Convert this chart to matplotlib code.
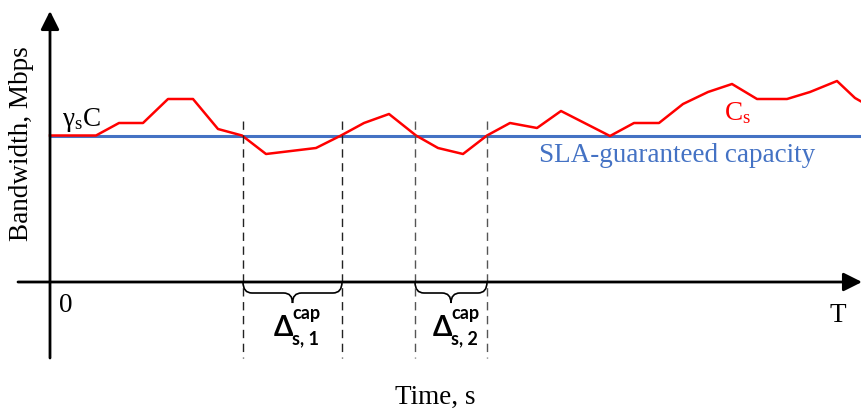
import matplotlib.pyplot as plt
from matplotlib.path import Path
from matplotlib.patches import PathPatch

# red capacity curve C_s (time, bandwidth), arbitrary units
time = [0, 46, 69, 93, 118, 143, 168, 192, 216, 266, 291, 314, 339, 366, 388, 413,
        437, 460, 487, 511, 560, 584, 609, 633, 658, 682, 707, 737, 760, 787, 805, 812]
bandwidth = [146.5, 146.5, 159, 159, 183, 183, 153, 146.5, 128, 134, 146.5, 159, 168, 146.5, 134, 128,
             146.5, 159, 154, 171, 146, 159, 159, 178, 190, 198, 183, 183, 190, 201, 184, 180]
sla_level = 146.5
t_end = 812

# intervals where capacity drops below SLA
gaps = [(193, 292), (365, 437)]
gap_labels = ["1", "2"]

serif = ["Liberation Serif", "DejaVu Serif"]
sans = ["Lato", "DejaVu Sans"]
fs = 19.5

fig = plt.figure(figsize=(8.62, 4.12), dpi=100)
ax = fig.add_axes([0, 0, 1, 1])
ax.set_xlim(-50, 812)
ax.set_ylim(-130, 282)
ax.axis("off")

# axes with arrows
ax.annotate("", xy=(0, 271), xytext=(0, -76),
            arrowprops=dict(arrowstyle="-|>", lw=2.0, color="black", mutation_scale=28, shrinkA=0, shrinkB=0))
ax.annotate("", xy=(t_end, 0), xytext=(-32, 0),
            arrowprops=dict(arrowstyle="-|>", lw=2.0, color="black", mutation_scale=28, shrinkA=0, shrinkB=0))

# SLA line and capacity curve
ax.plot([0, t_end], [sla_level, sla_level], color="#4472C4", lw=2.2)
ax.plot(time, bandwidth, color="#FF0000", lw=1.8)

# dashed markers and braces
dash_colors = ["#222222", "#555555"]
for (a, b), lab, dc in zip(gaps, gap_labels, dash_colors):
    for x in (a, b):
        ax.plot([x, x], [161, -76], color=dc, lw=1.0, ls=(0, (6, 4)))
    m = (a + b) / 2
    r = 9
    mid, tip = -11, -21
    verts = [(a, 0), (a, mid), (a + r, mid), (m - r, mid), (m, mid), (m, tip),
             (m, mid), (m + r, mid), (b - r, mid), (b, mid), (b, 0)]
    codes = [Path.MOVETO, Path.CURVE3, Path.CURVE3, Path.LINETO, Path.CURVE3, Path.CURVE3,
             Path.CURVE3, Path.CURVE3, Path.LINETO, Path.CURVE3, Path.CURVE3]
    ax.add_patch(PathPatch(Path(verts, codes), fill=False, lw=1.2, color="black"))
    ax.text(m - 9, -46, "Δ", family=sans, fontsize=20, fontweight="bold", ha="center", va="center")
    ax.text(m + 0, -32, "cap", family=sans, fontsize=13, fontweight="bold", ha="left", va="center")
    ax.text(m + 0, -57, "s, " + lab, family=sans, fontsize=13, fontweight="bold", ha="left", va="center")

# labels
ax.text(-28, 138, "Bandwidth, Mbps", family=serif, fontsize=fs, rotation=90, ha="center", va="center")
ax.text(385, -115, "Time, s", family=serif, fontsize=fs, ha="center", va="center")
ax.text(16, -23, "0", family=serif, fontsize=fs, ha="center", va="center")
ax.text(788, -33, "T", family=serif, fontsize=fs, ha="center", va="center")
ax.text(12, 162, r"$\mathregular{γ_sC}$", family=serif, fontsize=fs, ha="left", va="center")
ax.text(687, 169, r"$\mathregular{C_s}$", family=serif, fontsize=fs, color="#FF0000", ha="center", va="center")
ax.text(627, 126, "SLA-guaranteed capacity", family=serif, fontsize=fs, color="#4472C4", ha="center", va="center")

fig.savefig("out.png", dpi=100)
